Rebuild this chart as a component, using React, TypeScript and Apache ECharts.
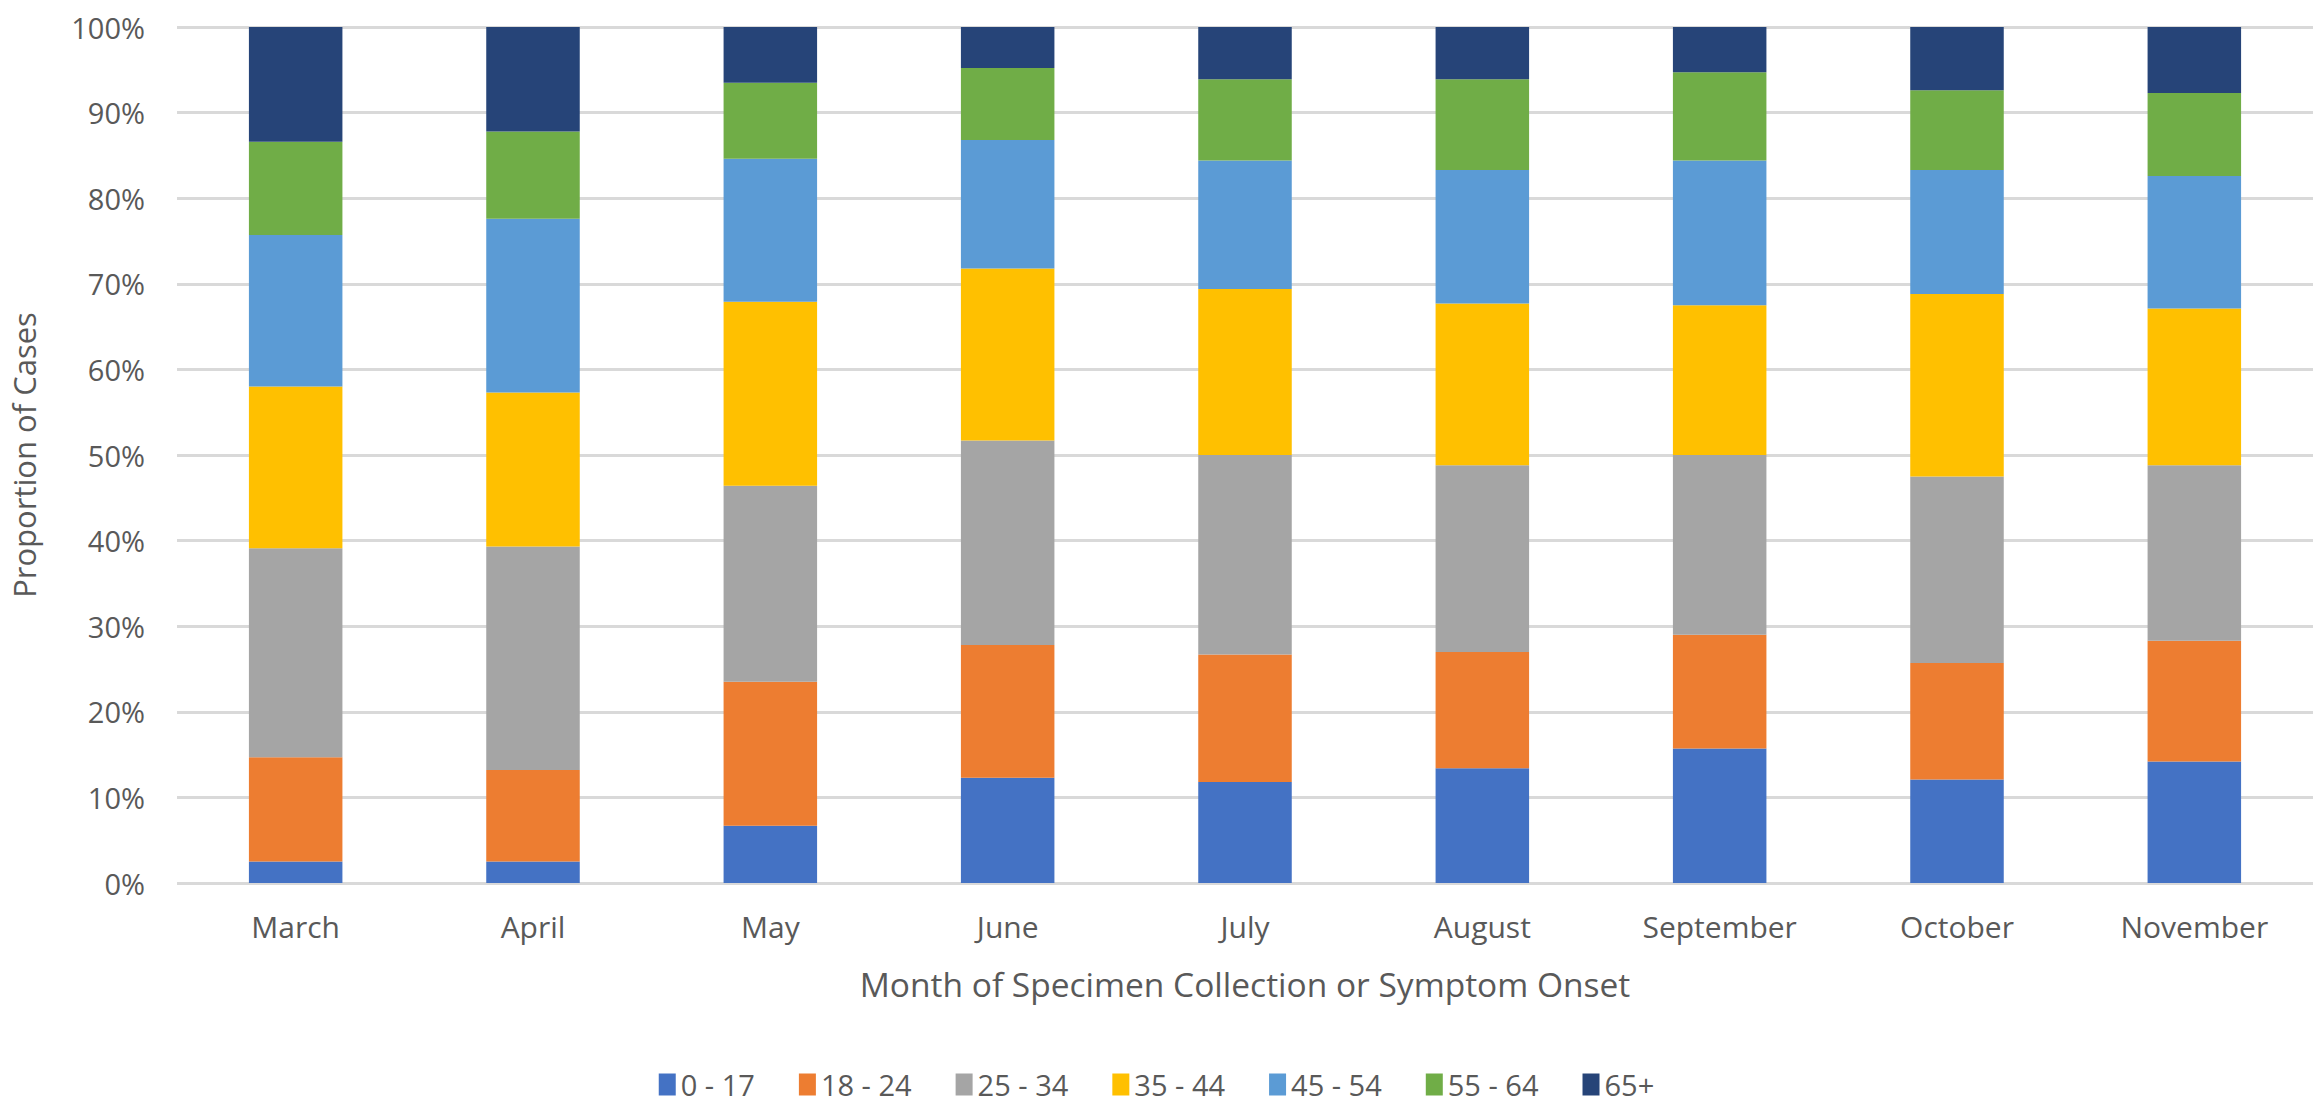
import React, { useEffect, useRef } from "react";
import * as echarts from "echarts";

const months = ["March", "April", "May", "June", "July", "August", "September", "October", "November"];
const ageGroups = ["0 - 17", "18 - 24", "25 - 34", "35 - 44", "45 - 54", "55 - 64", "65+"];
const colors = ["#4472C4", "#ED7D31", "#A5A5A5", "#FFC000", "#5B9BD5", "#70AD47", "#264478"];

const age0to17 = [2.5, 2.5, 6.7, 12.3, 11.8, 13.4, 15.7, 12.1, 14.2];
const age18to24 = [12.2, 10.7, 16.8, 15.5, 14.9, 13.6, 13.3, 13.6, 14.1];
const age25to34 = [24.4, 26.1, 22.9, 23.9, 23.3, 21.8, 21.0, 21.8, 20.5];
const age35to44 = [18.9, 18.0, 21.5, 20.1, 19.4, 18.9, 17.5, 21.3, 18.3];
const age45to54 = [17.7, 20.3, 16.7, 15.0, 15.0, 15.6, 16.9, 14.5, 15.5];
const age55to64 = [10.9, 10.2, 8.9, 8.4, 9.5, 10.6, 10.3, 9.3, 9.7];
const age65plus = [13.4, 12.2, 6.5, 4.8, 6.1, 6.1, 5.3, 7.4, 7.7];

const seriesValues = [age0to17, age18to24, age25to34, age35to44, age45to54, age55to64, age65plus];

const yTicks = { min: 0, max: 100, interval: 10 };

const FONT = "'Open Sans', sans-serif";
const TEXT = "#595959";

export default function App() {
  const ref = useRef<HTMLDivElement>(null);
  useEffect(() => {
    if (!ref.current) return;
    const chart = echarts.init(ref.current, null, { renderer: "svg" });
    chart.setOption({
      animation: false,
      backgroundColor: "#ffffff",
      textStyle: { fontFamily: FONT },
      grid: { left: 174, right: -9, top: 27, bottom: 221, containLabel: false },
      legend: {
        bottom: 0,
        left: "center",
        itemWidth: 17,
        itemHeight: 22,
        itemGap: 44,
        icon: "rect",
        textStyle: { color: TEXT, fontSize: 29, fontFamily: FONT },
        data: ageGroups,
      },
      xAxis: {
        type: "category",
        data: months,
        axisTick: { show: false },
        axisLine: { show: false },
        axisLabel: { color: TEXT, fontSize: 30, margin: 28, fontFamily: FONT },
        name: "Month of Specimen Collection or Symptom Onset",
        nameLocation: "middle",
        nameGap: 84,
        nameTextStyle: { color: TEXT, fontSize: 33.5, fontFamily: FONT },
      },
      yAxis: {
        type: "value",
        min: yTicks.min,
        max: yTicks.max,
        interval: yTicks.interval,
        axisLabel: { color: TEXT, fontSize: 29, margin: 32, formatter: "{value}%", fontFamily: FONT },
        splitLine: { lineStyle: { color: "#D9D9D9", width: 3 } },
        axisLine: { show: false },
        axisTick: { show: false },
        name: "Proportion of Cases",
        nameLocation: "middle",
        nameGap: 138,
        nameRotate: 90,
        nameTextStyle: { color: TEXT, fontSize: 31, fontFamily: FONT },
      },
      series: ageGroups.map((name, i) => ({
        name,
        type: "bar",
        stack: "total",
        barWidth: "39.4%",
        data: seriesValues[i],
        itemStyle: { color: colors[i] },
      })),
    });
    return () => chart.dispose();
  }, []);
  return (
    <div
      ref={ref}
      style={{ position: "fixed", left: 0, top: 0, width: 2313, height: 1104 }}
    />
  );
}
